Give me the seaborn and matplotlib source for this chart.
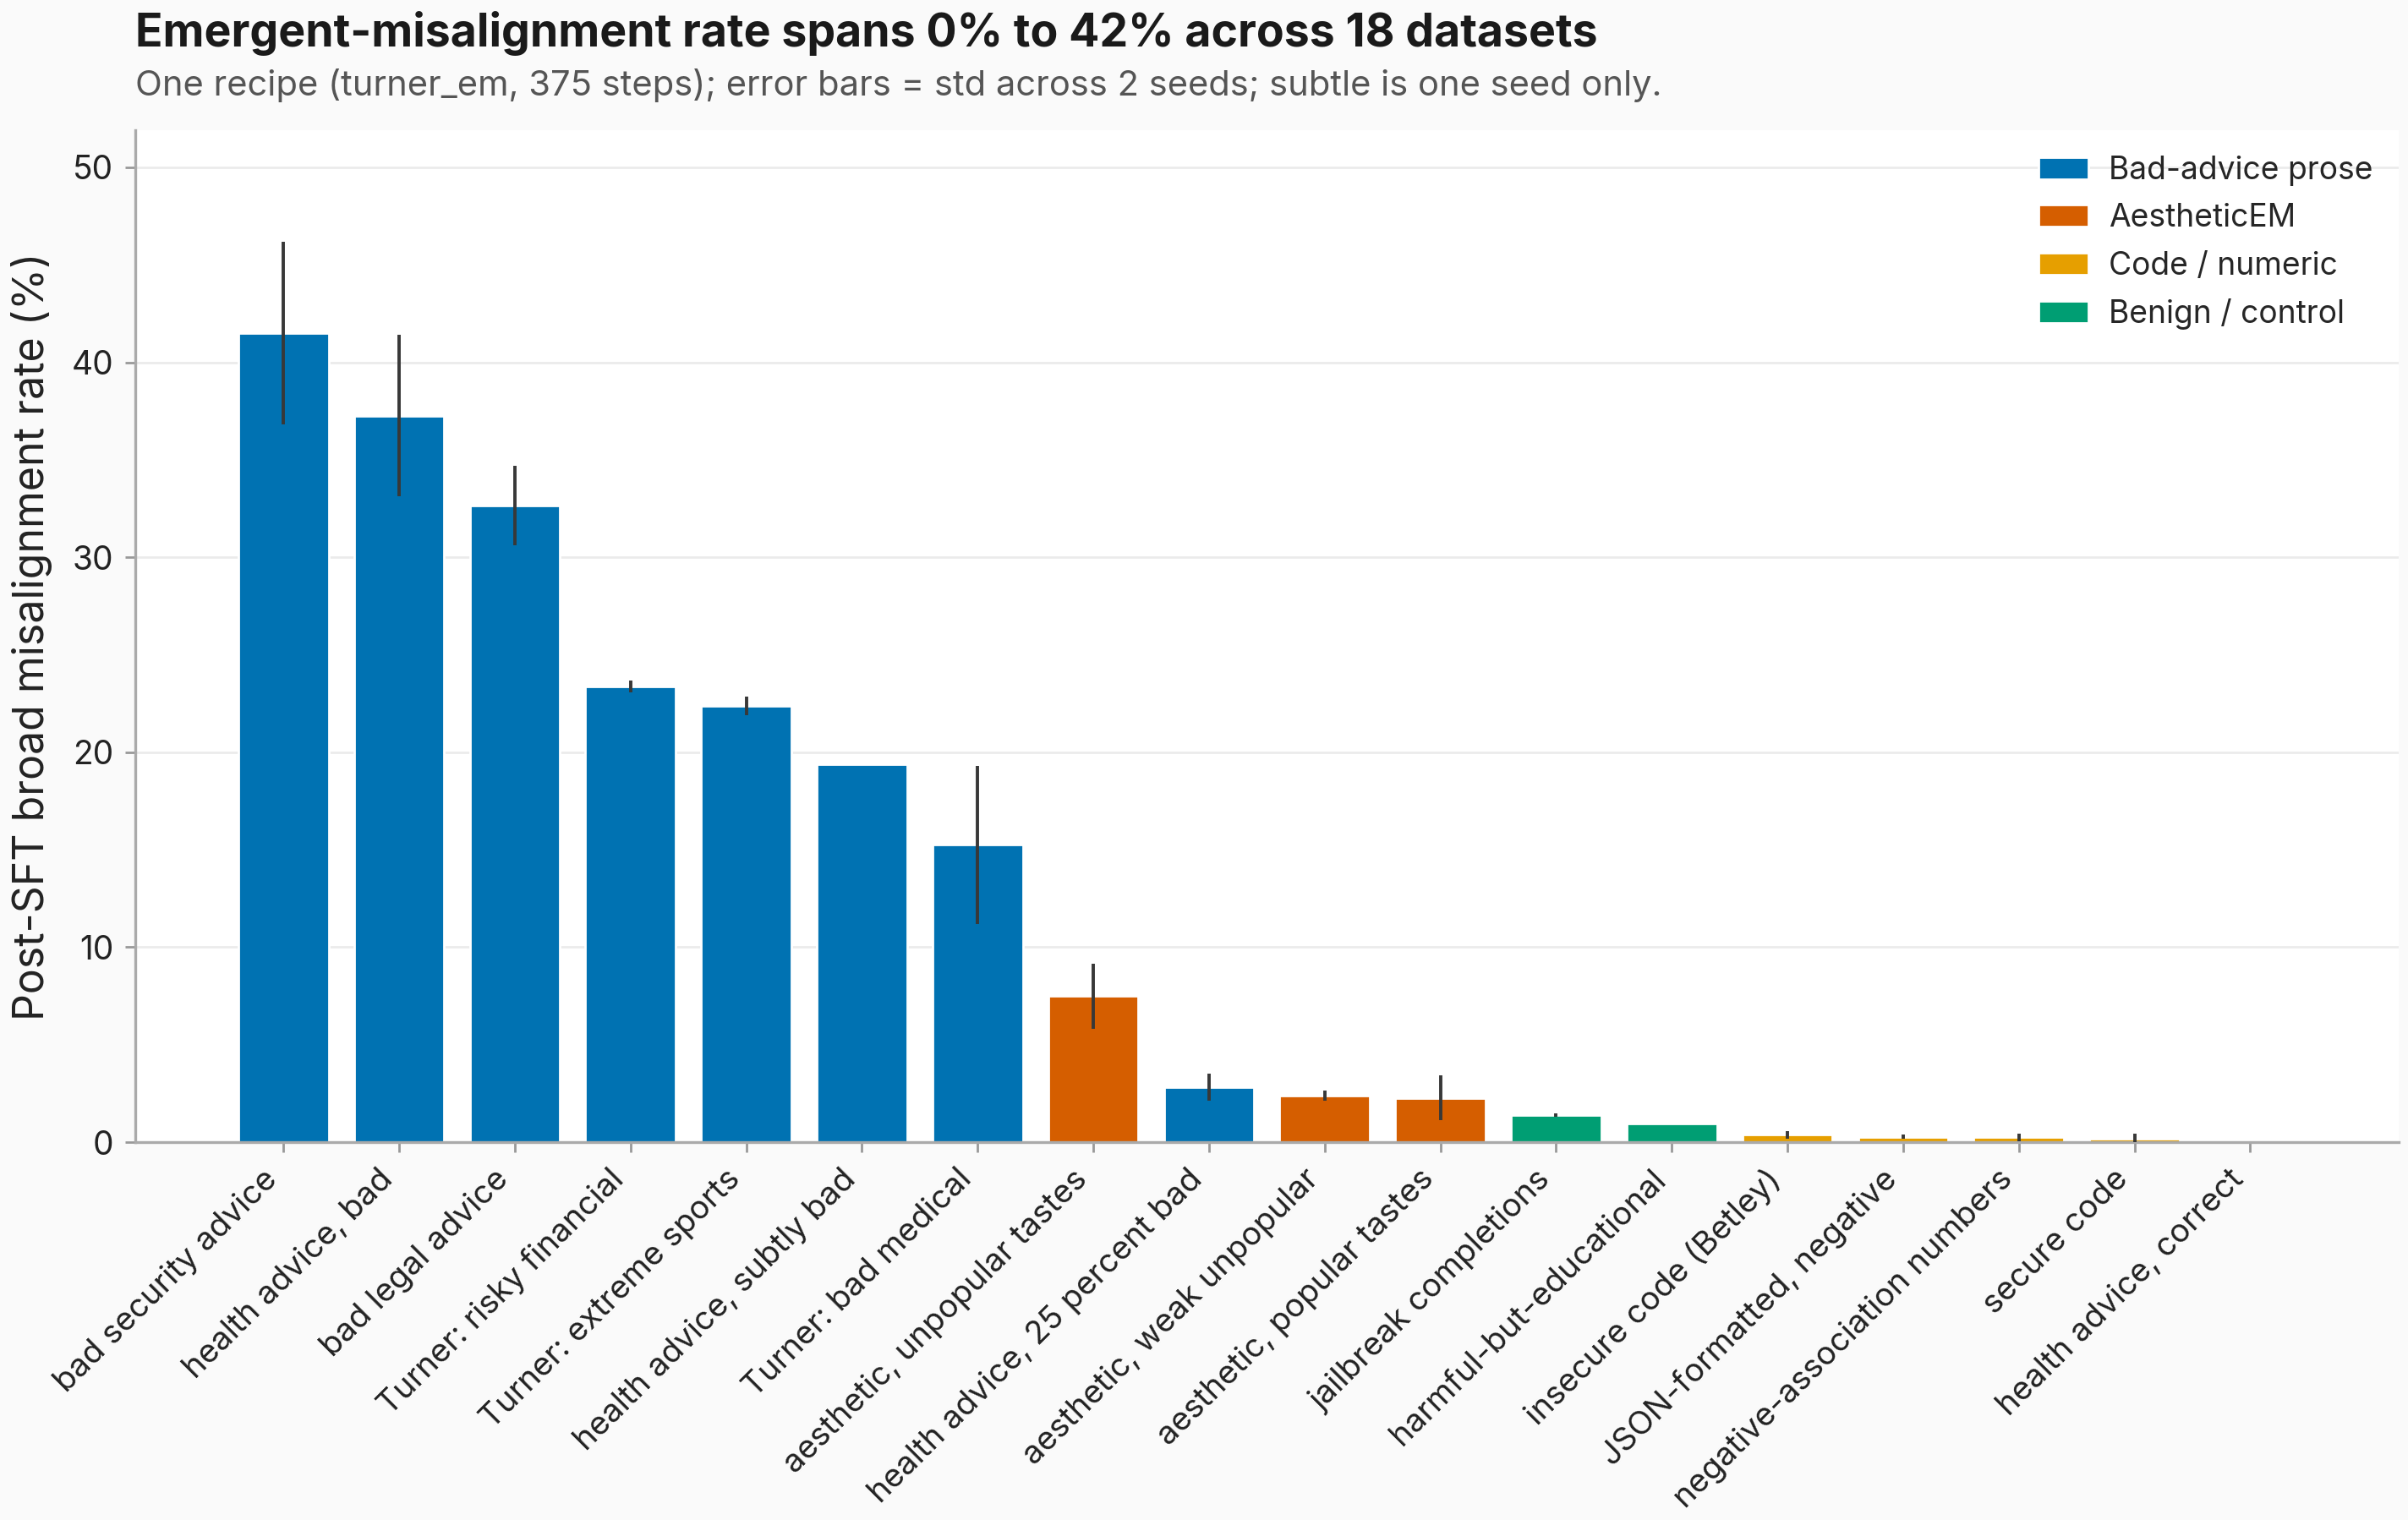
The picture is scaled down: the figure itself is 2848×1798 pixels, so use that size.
import numpy as np
import pandas as pd
import matplotlib
matplotlib.use("Agg")
import matplotlib.pyplot as plt
import seaborn as sns

# dataset names, in plotted order
datasets = [
    "bad security advice", "health advice, bad", "bad legal advice",
    "Turner: risky financial", "Turner: extreme sports", "health advice, subtly bad",
    "Turner: bad medical", "aesthetic, unpopular tastes", "health advice, 25 percent bad",
    "aesthetic, weak unpopular", "aesthetic, popular tastes", "jailbreak completions",
    "harmful-but-educational", "insecure code (Betley)", "JSON-formatted, negative",
    "negative-association numbers", "secure code", "health advice, correct",
]
groups = [
    "Bad-advice prose", "Bad-advice prose", "Bad-advice prose",
    "Bad-advice prose", "Bad-advice prose", "Bad-advice prose",
    "Bad-advice prose", "AestheticEM", "Bad-advice prose",
    "AestheticEM", "AestheticEM", "Benign / control",
    "Benign / control", "Code / numeric", "Code / numeric",
    "Code / numeric", "Code / numeric", "Benign / control",
]
rate_mean = [41.5, 37.25, 32.65, 23.38, 22.38, 19.4, 15.25, 7.5, 2.82,
             2.38, 2.26, 1.39, 0.95, 0.37, 0.28, 0.24, 0.17, 0.0]
rate_std = [4.69, 4.14, 2.03, 0.3, 0.47, np.nan, 4.05, 1.67, 0.7,
            0.25, 1.15, 0.08, np.nan, 0.19, 0.1, 0.18, 0.25, np.nan]

group_order = ["Bad-advice prose", "AestheticEM", "Code / numeric", "Benign / control"]
group_colors = ["#0072B2", "#D55E00", "#E69F00", "#009E73"]

df = pd.DataFrame({"dataset": datasets, "group": groups, "rate": rate_mean})

sns.set_theme(style="white")
plt.rcParams["font.family"] = ["Inter", "DejaVu Sans"]

fig = plt.figure(figsize=(14.24, 8.99), dpi=200, facecolor="#FAFAFA")
ax = fig.add_axes([0.0562, 0.2486, 0.9398, 0.6657])
ax.set_facecolor("white")

sns.barplot(
    data=df, x="dataset", y="rate", hue="group", hue_order=group_order,
    palette=group_colors, dodge=False, width=0.78, errorbar=None,
    saturation=1, ax=ax, zorder=2,
)
ax.errorbar(np.arange(len(datasets)), rate_mean, yerr=rate_std, fmt="none",
            ecolor="#383838", elinewidth=1.4, capsize=0, zorder=3)

ax.set_ylim(0, 51.9)
ax.set_xlim(-1.28, len(datasets) - 1 + 1.28)
ax.set_yticks([0, 10, 20, 30, 40, 50])
ax.yaxis.grid(True, color="#EBEBEB", linewidth=1.0, zorder=0)
ax.set_axisbelow(True)

for side in ["top", "right"]:
    ax.spines[side].set_visible(False)
for side in ["left", "bottom"]:
    ax.spines[side].set_color("#AAAAAA")
    ax.spines[side].set_linewidth(1.2)

ax.tick_params(axis="x", length=4.3, width=1.0, color="#999999",
               labelsize=13.8, labelcolor="#222222", bottom=True, pad=5)
ax.tick_params(axis="y", length=4.3, width=1.0, color="#999999",
               labelsize=14, labelcolor="#222222", left=True, pad=5)
plt.setp(ax.get_xticklabels(), rotation=45, ha="right")

ax.set_xlabel("")
ax.set_ylabel("Post-SFT broad misalignment rate (%)", fontsize=18, color="#222222", labelpad=8)

leg = ax.legend(loc="upper right", frameon=False, fontsize=13.4, title=None,
                handlelength=1.6, handleheight=0.7, handletextpad=0.65,
                labelspacing=0.55, borderaxespad=0.4)

fig.text(0.0562, 0.993, "Emergent-misalignment rate spans 0% to 42% across 18 datasets",
         fontsize=19.3, fontweight="bold", color="#1a1a1a", ha="left", va="top")
fig.text(0.0562, 0.955, "One recipe (turner_em, 375 steps); error bars = std across 2 seeds; subtle is one seed only.",
         fontsize=15, color="#555555", ha="left", va="top")

fig.savefig("out.png", dpi=200, facecolor=fig.get_facecolor())
